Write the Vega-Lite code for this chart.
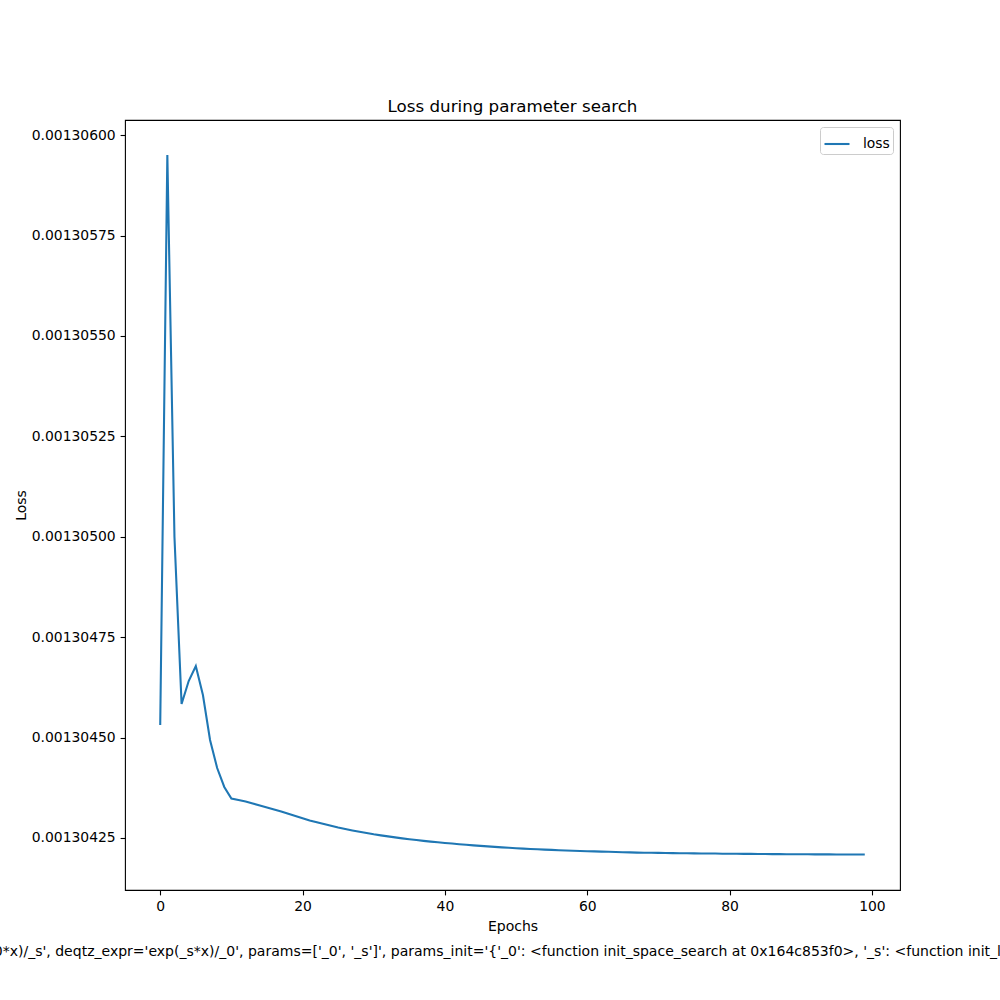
{
  "$schema": "https://vega.github.io/schema/vega-lite/v6.json",
  "width": 775,
  "height": 770,
  "autosize": {"type": "none"},
  "padding": {"left": 125, "top": 120, "right": 100, "bottom": 110},
  "background": "white",
  "config": {
    "font": "DejaVu Sans",
    "view": {"stroke": "black", "strokeWidth": 1.1},
    "axis": {
      "grid": false,
      "domain": false,
      "tickColor": "black",
      "tickSize": 4.9,
      "tickWidth": 1.1,
      "labelColor": "black",
      "labelFont": "DejaVu Sans",
      "labelFontSize": 13.9,
      "labelPadding": 4.9,
      "titleColor": "black",
      "titleFont": "DejaVu Sans",
      "titleFontSize": 13.9,
      "titleFontWeight": "normal",
      "titleLimit": 5000
    },
    "title": {"font": "DejaVu Sans", "fontSize": 16.7, "fontWeight": "normal", "color": "black", "offset": 4}
  },
  "title": {"text": "Loss during parameter search", "anchor": "middle"},
  "data": {
    "values": [
      {"epoch": 0, "loss": 0.0013045314},
      {"epoch": 1, "loss": 0.0013059507},
      {"epoch": 2, "loss": 0.0013049995},
      {"epoch": 3, "loss": 0.0013045837},
      {"epoch": 4, "loss": 0.0013046409},
      {"epoch": 5, "loss": 0.0013046783},
      {"epoch": 6, "loss": 0.0013046061},
      {"epoch": 7, "loss": 0.001304494},
      {"epoch": 8, "loss": 0.0013044243},
      {"epoch": 9, "loss": 0.001304377},
      {"epoch": 10, "loss": 0.0013043484},
      {"epoch": 11, "loss": 0.0013043446},
      {"epoch": 12, "loss": 0.0013043409},
      {"epoch": 13, "loss": 0.0013043359},
      {"epoch": 14, "loss": 0.0013043309},
      {"epoch": 15, "loss": 0.001304326},
      {"epoch": 16, "loss": 0.001304321},
      {"epoch": 17, "loss": 0.001304316},
      {"epoch": 18, "loss": 0.0013043103},
      {"epoch": 19, "loss": 0.0013043048},
      {"epoch": 20, "loss": 0.0013042991},
      {"epoch": 21, "loss": 0.0013042936},
      {"epoch": 22, "loss": 0.0013042891},
      {"epoch": 23, "loss": 0.0013042849},
      {"epoch": 24, "loss": 0.0013042804},
      {"epoch": 25, "loss": 0.0013042761},
      {"epoch": 26, "loss": 0.0013042724},
      {"epoch": 27, "loss": 0.0013042687},
      {"epoch": 28, "loss": 0.0013042654},
      {"epoch": 29, "loss": 0.0013042625},
      {"epoch": 30, "loss": 0.0013042592},
      {"epoch": 31, "loss": 0.0013042565},
      {"epoch": 32, "loss": 0.001304254},
      {"epoch": 33, "loss": 0.0013042515},
      {"epoch": 34, "loss": 0.001304249},
      {"epoch": 35, "loss": 0.0013042468},
      {"epoch": 36, "loss": 0.0013042448},
      {"epoch": 37, "loss": 0.0013042428},
      {"epoch": 38, "loss": 0.001304241},
      {"epoch": 39, "loss": 0.0013042393},
      {"epoch": 40, "loss": 0.0013042376},
      {"epoch": 41, "loss": 0.0013042361},
      {"epoch": 42, "loss": 0.0013042346},
      {"epoch": 43, "loss": 0.0013042331},
      {"epoch": 44, "loss": 0.0013042316},
      {"epoch": 45, "loss": 0.0013042303},
      {"epoch": 46, "loss": 0.0013042291},
      {"epoch": 47, "loss": 0.0013042278},
      {"epoch": 48, "loss": 0.0013042266},
      {"epoch": 49, "loss": 0.0013042256},
      {"epoch": 50, "loss": 0.0013042246},
      {"epoch": 51, "loss": 0.0013042236},
      {"epoch": 52, "loss": 0.0013042226},
      {"epoch": 53, "loss": 0.0013042219},
      {"epoch": 54, "loss": 0.0013042211},
      {"epoch": 55, "loss": 0.0013042204},
      {"epoch": 56, "loss": 0.0013042196},
      {"epoch": 57, "loss": 0.0013042189},
      {"epoch": 58, "loss": 0.0013042181},
      {"epoch": 59, "loss": 0.0013042176},
      {"epoch": 60, "loss": 0.0013042171},
      {"epoch": 61, "loss": 0.0013042166},
      {"epoch": 62, "loss": 0.0013042161},
      {"epoch": 63, "loss": 0.0013042156},
      {"epoch": 64, "loss": 0.0013042151},
      {"epoch": 65, "loss": 0.0013042146},
      {"epoch": 66, "loss": 0.0013042141},
      {"epoch": 67, "loss": 0.0013042136},
      {"epoch": 68, "loss": 0.0013042134},
      {"epoch": 69, "loss": 0.0013042131},
      {"epoch": 70, "loss": 0.0013042129},
      {"epoch": 71, "loss": 0.0013042126},
      {"epoch": 72, "loss": 0.0013042124},
      {"epoch": 73, "loss": 0.0013042121},
      {"epoch": 74, "loss": 0.0013042119},
      {"epoch": 75, "loss": 0.0013042116},
      {"epoch": 76, "loss": 0.0013042114},
      {"epoch": 77, "loss": 0.0013042112},
      {"epoch": 78, "loss": 0.0013042112},
      {"epoch": 79, "loss": 0.0013042109},
      {"epoch": 80, "loss": 0.0013042107},
      {"epoch": 81, "loss": 0.0013042107},
      {"epoch": 82, "loss": 0.0013042104},
      {"epoch": 83, "loss": 0.0013042104},
      {"epoch": 84, "loss": 0.0013042102},
      {"epoch": 85, "loss": 0.0013042102},
      {"epoch": 86, "loss": 0.0013042099},
      {"epoch": 87, "loss": 0.0013042099},
      {"epoch": 88, "loss": 0.0013042097},
      {"epoch": 89, "loss": 0.0013042097},
      {"epoch": 90, "loss": 0.0013042094},
      {"epoch": 91, "loss": 0.0013042094},
      {"epoch": 92, "loss": 0.0013042092},
      {"epoch": 93, "loss": 0.0013042092},
      {"epoch": 94, "loss": 0.0013042092},
      {"epoch": 95, "loss": 0.0013042089},
      {"epoch": 96, "loss": 0.0013042089},
      {"epoch": 97, "loss": 0.0013042087},
      {"epoch": 98, "loss": 0.0013042087},
      {"epoch": 99, "loss": 0.0013042087}
    ]
  },
  "mark": {"type": "line", "strokeWidth": 2.08, "clip": true},
  "encoding": {
    "x": {
      "field": "epoch",
      "type": "quantitative",
      "scale": {"domain": [-4.95, 103.95], "nice": false, "zero": false},
      "axis": {
        "values": [0, 20, 40, 60, 80, 100],
        "format": "d",
        "title": ["Epochs", "Quantizer(qtz_expr='log(_0*x)/_s', deqtz_expr='exp(_s*x)/_0', params=['_0', '_s']', params_init='{'_0': <function init_space_search at 0x164c853f0>, '_s': <function init_log_search at 0x164c85480>}'"],
        "titleFontSize": 14.02,
        "titleLineHeight": 24.5,
        "titlePadding": 6
      }
    },
    "y": {
      "field": "loss",
      "type": "quantitative",
      "scale": {"domain": [0.0013041205, 0.0013060378], "nice": false, "zero": false},
      "axis": {
        "values": [0.00130425, 0.0013045, 0.00130475, 0.001305, 0.00130525, 0.0013055, 0.00130575, 0.001306],
        "format": ".8f",
        "title": "Loss",
        "titlePadding": 3
      }
    },
    "color": {
      "datum": "loss",
      "type": "nominal",
      "scale": {"range": ["#1f77b4"]},
      "legend": {
        "title": null,
        "orient": "top-right",
        "offset": 7,
        "symbolType": "stroke",
        "symbolSize": 625,
        "symbolStrokeWidth": 2.08,
        "labelFontSize": 13.9,
        "labelFont": "DejaVu Sans",
        "labelColor": "black",
        "labelOffset": 12,
        "padding": 3,
        "strokeColor": "#cccccc",
        "fillColor": "white",
        "cornerRadius": 3
      }
    }
  }
}
